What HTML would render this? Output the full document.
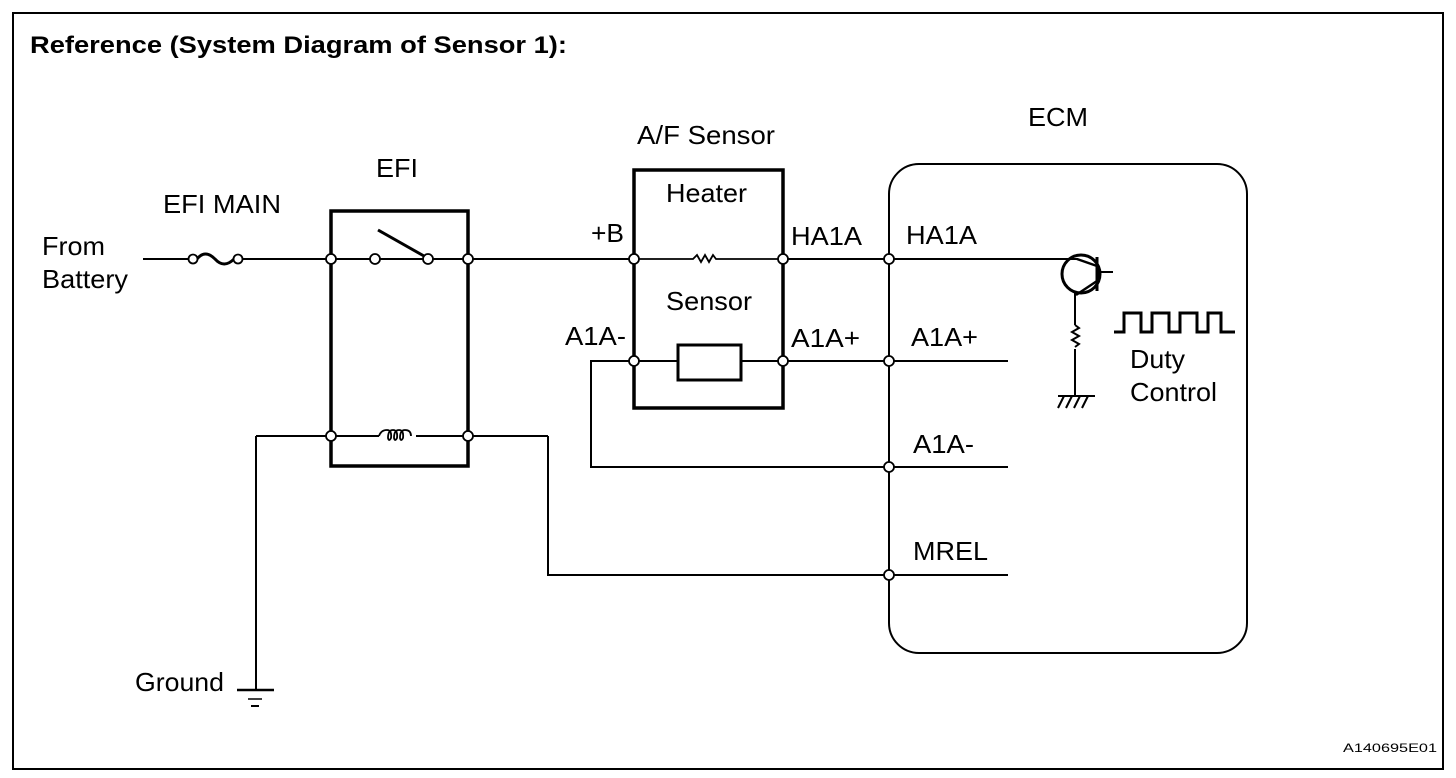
<!DOCTYPE html>
<html><head><style>
body{margin:0;background:#fff;}
svg{display:block;}
text{font-family:"Liberation Sans",sans-serif;font-size:26px;fill:#000;}
</style></head><body>
<svg width="1456" height="778" viewBox="0 0 1456 778" xmlns="http://www.w3.org/2000/svg">
<rect x="13" y="13" width="1430" height="756" fill="none" stroke="#000" stroke-width="2"/>
<text x="30" y="53" font-weight="bold" style="font-size:24px" textLength="537" lengthAdjust="spacingAndGlyphs">Reference (System Diagram of Sensor 1):</text>
<g fill="none" stroke="#000" stroke-width="2">
<line x1="143" y1="259" x2="189" y2="259"/>
<line x1="242" y1="259" x2="1064" y2="259"/>
<path d="M197 259 Q205 249 215 259 Q224 269 234 259" stroke-width="3"/>
<rect x="331" y="211" width="137" height="255" stroke-width="3.5"/>
<line x1="378" y1="230" x2="424" y2="256" stroke-width="3"/>
<line x1="256" y1="436" x2="379" y2="436"/>
<line x1="416" y1="436" x2="548" y2="436"/>
<path d="M379 436 q2 -6 8 -6 q5 0 4 8 q-2 4 -3 0 q0 -8 5 -8 q5 0 4 8 q-2 4 -3 0 q0 -8 5 -8 q5 0 4 8 q-2 4 -3 0 q0 -8 5 -8 q6 0 6 6" stroke-width="1.8"/>
<line x1="256" y1="436" x2="256" y2="690"/>
<line x1="237" y1="690" x2="274" y2="690" stroke-width="2.5"/>
<line x1="248" y1="699" x2="262" y2="699" stroke-width="1.5"/>
<line x1="251" y1="706" x2="259" y2="706" stroke-width="2"/>
<polyline points="548,436 548,575 1008,575"/>
<rect x="634" y="170" width="149" height="238" stroke-width="3.5"/>
<line x1="634" y1="259" x2="783" y2="259" stroke="#fff" stroke-width="4"/>
<polyline points="634,259 693,259 697,255 701,262 705,255 709,262 713,255 716,259 783,259" stroke-width="1.8"/>
<line x1="634" y1="361" x2="678" y2="361"/>
<rect x="678" y="345" width="63" height="35" stroke-width="3"/>
<line x1="741" y1="361" x2="1008" y2="361"/>
<polyline points="634,361 591,361 591,467 1008,467"/>
<rect x="889" y="164" width="358" height="489" rx="30" ry="30"/>
<circle cx="1081" cy="274" r="19" stroke-width="3"/>
<line x1="1097" y1="257" x2="1097" y2="291" stroke-width="3"/>
<line x1="1097" y1="272" x2="1113" y2="272"/>
<line x1="1064" y1="259" x2="1078" y2="259"/>
<line x1="1077" y1="259" x2="1097" y2="266" stroke-width="2.5"/>
<line x1="1097" y1="281" x2="1076" y2="295" stroke-width="2.5"/>
<line x1="1075" y1="291" x2="1075" y2="325"/>
<path d="M1075 325 l4 3 l-7 4 l7 4 l-7 4 l7 4 l-4 3" stroke-width="2"/>
<line x1="1075" y1="349" x2="1075" y2="396"/>
<line x1="1058" y1="396" x2="1095" y2="396" stroke-width="2"/>
<line x1="1064" y1="396" x2="1058" y2="408"/>
<line x1="1072" y1="396" x2="1066" y2="408"/>
<line x1="1080" y1="396" x2="1074" y2="408"/>
<line x1="1088" y1="396" x2="1082" y2="408"/>
<polyline points="1114,332 1124,332 1124,313 1141,313 1141,332 1152,332 1152,313 1169,313 1169,332 1180,332 1180,313 1197,313 1197,332 1208,332 1208,313 1221,313 1221,332 1235,332" stroke-width="3"/>
</g>
<g fill="#fff" stroke="#000" stroke-width="1.8">
<circle cx="193" cy="259" r="4.5"/><circle cx="238" cy="259" r="4.5"/>
<circle cx="331" cy="259" r="5"/><circle cx="375" cy="259" r="5"/><circle cx="428" cy="259" r="5"/><circle cx="468" cy="259" r="5"/>
<circle cx="331" cy="436" r="5"/><circle cx="468" cy="436" r="5"/>
<circle cx="634" cy="259" r="5"/><circle cx="783" cy="259" r="5"/><circle cx="889" cy="259" r="5"/>
<circle cx="634" cy="361" r="5"/><circle cx="783" cy="361" r="5"/><circle cx="889" cy="361" r="5"/>
<circle cx="889" cy="467" r="5"/><circle cx="889" cy="575" r="5"/>
</g>
<text x="163" y="213" textLength="118" lengthAdjust="spacingAndGlyphs">EFI MAIN</text>
<text x="376" y="177" textLength="42" lengthAdjust="spacingAndGlyphs">EFI</text>
<text x="42" y="255" textLength="63" lengthAdjust="spacingAndGlyphs">From</text>
<text x="42" y="288" textLength="86" lengthAdjust="spacingAndGlyphs">Battery</text>
<text x="637" y="144" textLength="138" lengthAdjust="spacingAndGlyphs">A/F Sensor</text>
<text x="666" y="202" textLength="81" lengthAdjust="spacingAndGlyphs">Heater</text>
<text x="666" y="310" textLength="86" lengthAdjust="spacingAndGlyphs">Sensor</text>
<text x="591" y="242" textLength="33" lengthAdjust="spacingAndGlyphs">+B</text>
<text x="791" y="245" textLength="71" lengthAdjust="spacingAndGlyphs">HA1A</text>
<text x="565" y="345" textLength="61" lengthAdjust="spacingAndGlyphs">A1A-</text>
<text x="791" y="347" textLength="69" lengthAdjust="spacingAndGlyphs">A1A+</text>
<text x="1028" y="126" textLength="60" lengthAdjust="spacingAndGlyphs">ECM</text>
<text x="906" y="244" textLength="71" lengthAdjust="spacingAndGlyphs">HA1A</text>
<text x="911" y="346" textLength="67" lengthAdjust="spacingAndGlyphs">A1A+</text>
<text x="913" y="453" textLength="61" lengthAdjust="spacingAndGlyphs">A1A-</text>
<text x="913" y="560" textLength="75" lengthAdjust="spacingAndGlyphs">MREL</text>
<text x="1130" y="368" textLength="55" lengthAdjust="spacingAndGlyphs">Duty</text>
<text x="1130" y="401" textLength="87" lengthAdjust="spacingAndGlyphs">Control</text>
<text x="135" y="691" textLength="89" lengthAdjust="spacingAndGlyphs">Ground</text>
<text x="1343" y="752" style="font-size:12px" textLength="94" lengthAdjust="spacingAndGlyphs">A140695E01</text>
</svg>
</body></html>
